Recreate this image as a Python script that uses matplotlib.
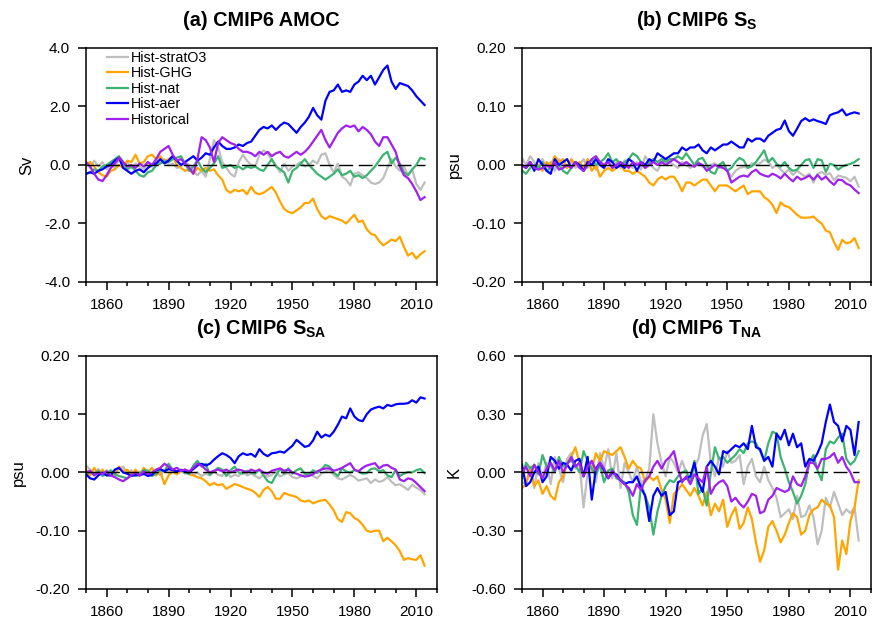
import numpy as np
import matplotlib
matplotlib.use('Agg')
import matplotlib.pyplot as plt
from matplotlib.ticker import FixedLocator, MultipleLocator, FormatStrFormatter

plt.rcParams['font.family'] = 'Liberation Sans'
plt.rcParams['mathtext.fontset'] = 'custom'
plt.rcParams['mathtext.rm'] = 'Liberation Sans'
plt.rcParams['mathtext.bf'] = 'Liberation Sans:bold'
plt.rcParams['axes.unicode_minus'] = False

# annual anomalies sampled every 2 years, 1850-2014
years = np.arange(1850, 2015, 2)

# (a) AMOC, Sv
amoc_strato3 = [0.10, -0.10, 0.15, -0.05, 0.10, -0.15, 0.05, -0.10, 0.20, 0.00,
                0.10, -0.10, 0.05, -0.05, -0.15, 0.10, -0.05, 0.15, 0.05, 0.20,
                0.00, 0.05, -0.10, -0.05, 0.10, 0.00, -0.20, -0.35, -0.20, -0.40,
                0.20, 0.85, 0.60, 0.10, -0.10, -0.30, -0.40, 0.10, 0.35, 0.15,
                0.00, -0.05, 0.35, 0.50, 0.40, 0.15, 0.00, -0.25, 0.05, -0.20,
                -0.05, 0.00, 0.10, -0.05, 0.00, 0.15, 0.05, 0.35, 0.40, 0.00,
                -0.25, 0.05, -0.40, -0.50, -0.70, -0.30, -0.25, -0.35, -0.45, -0.60,
                -0.65, -0.60, -0.45, -0.10, 0.20, -0.05, -0.20, -0.05, -0.35, -0.15,
                -0.65, -0.85, -0.60]
amoc_ghg = [0.00, 0.10, -0.05, -0.25, -0.35, -0.40, -0.20, -0.15, 0.00, -0.10,
            0.15, 0.10, 0.35, 0.05, 0.10, 0.30, 0.35, 0.20, 0.30, 0.10,
            0.20, 0.30, 0.00, -0.10, -0.20, -0.15, -0.30, -0.10, -0.20, -0.10,
            -0.20, -0.15, -0.35, -0.50, -0.85, -0.95, -0.85, -0.90, -0.85, -1.00,
            -0.75, -0.95, -1.00, -0.95, -0.85, -0.75, -0.95, -1.25, -1.50, -1.60,
            -1.65, -1.55, -1.45, -1.30, -1.30, -1.15, -1.50, -1.75, -1.85, -1.75,
            -1.80, -1.85, -1.90, -2.00, -1.85, -1.70, -1.95, -1.90, -2.20, -2.35,
            -2.40, -2.60, -2.75, -2.65, -2.55, -2.60, -2.45, -2.80, -3.10, -3.00,
            -3.20, -3.05, -2.95]
amoc_nat = [-0.30, -0.25, -0.15, -0.20, -0.05, 0.00, 0.10, 0.20, 0.30, 0.10,
            -0.15, -0.05, -0.20, -0.35, -0.40, -0.25, -0.20, 0.00, 0.05, 0.15,
            0.10, 0.20, 0.25, 0.30, 0.05, -0.20, -0.05, 0.15, -0.10, -0.25,
            -0.10, 0.05, 0.30, -0.10, -0.05, 0.00, -0.10, -0.05, -0.15, -0.05,
            -0.10, -0.05, -0.15, -0.20, 0.00, 0.20, -0.05, -0.15, -0.25, -0.60,
            -0.20, -0.10, 0.05, 0.20, 0.00, -0.15, -0.30, -0.40, -0.50, -0.40,
            -0.30, -0.15, -0.35, -0.30, -0.20, -0.40, -0.35, -0.45, -0.35, -0.20,
            -0.05, 0.15, 0.35, 0.45, 0.05, 0.25, 0.05, -0.25, -0.35, -0.15,
            0.00, 0.25, 0.20]
amoc_aer = [-0.30, -0.25, -0.30, -0.20, -0.15, -0.05, 0.00, 0.15, 0.25, -0.10,
            -0.20, -0.30, -0.20, -0.15, -0.25, -0.10, 0.00, 0.05, 0.20, 0.05,
            0.15, 0.30, 0.15, 0.00, 0.10, 0.20, 0.30, 0.15, 0.25, 0.40,
            0.35, 0.60, 0.80, 0.65, 0.55, 0.55, 0.60, 0.70, 0.65, 0.75,
            0.80, 1.00, 1.20, 1.30, 1.25, 1.35, 1.20, 1.35, 1.45, 1.40,
            1.25, 1.10, 1.30, 1.45, 1.65, 1.95, 1.70, 1.55, 2.20, 2.50,
            2.55, 2.75, 2.50, 2.55, 2.50, 2.75, 2.85, 3.05, 2.90, 3.05,
            2.75, 3.00, 3.25, 3.40, 2.85, 2.60, 2.80, 2.75, 2.70, 2.55,
            2.35, 2.20, 2.05]
amoc_hist = [0.10, -0.05, -0.30, -0.50, -0.55, -0.35, -0.10, 0.05, 0.25, 0.10,
             -0.05, 0.00, -0.10, 0.05, -0.05, 0.10, 0.00, 0.20, 0.45, 0.55,
             0.65, 0.35, 0.15, 0.20, 0.05, -0.10, -0.30, 0.20, 0.95, 0.85,
             0.60, 0.10, 0.75, 0.95, 0.85, 0.75, 0.70, 0.55, 0.45, 0.45,
             0.40, 0.30, 0.45, 0.35, 0.45, 0.30, 0.40, 0.45, 0.30, 0.25,
             0.35, 0.45, 0.35, 0.45, 0.60, 0.80, 1.00, 1.20, 0.85, 0.60,
             0.85, 1.10, 1.25, 1.35, 1.30, 1.35, 1.15, 1.30, 1.20, 1.05,
             0.80, 0.65, 0.95, 0.95, 0.70, 0.45, -0.05, -0.35, -0.45, -0.65,
             -0.90, -1.20, -1.10]

# (b) S_S, psu
ss_strato3 = [0.012, 0.000, 0.015, 0.005, -0.005, 0.010, -0.005, 0.005, -0.010, 0.010,
              0.000, -0.005, 0.008, -0.005, 0.000, 0.010, -0.005, 0.005, -0.008, 0.005,
              0.000, 0.008, -0.005, 0.005, -0.005, 0.008, 0.000, -0.005, 0.005, -0.008,
              0.015, 0.005, -0.005, -0.010, 0.005, 0.010, 0.005, 0.000, -0.005, 0.005,
              0.000, -0.005, 0.000, 0.005, -0.003, -0.005, 0.000, 0.003, -0.005, -0.003,
              -0.010, -0.020, -0.010, -0.005, -0.003, -0.005, 0.003, 0.000, 0.003, 0.009,
              0.006, -0.005, 0.000, -0.008, -0.014, -0.008, -0.017, -0.010, -0.015, -0.020,
              -0.015, -0.030, -0.015, -0.012, -0.017, -0.014, -0.026, -0.018, -0.020, -0.022,
              -0.028, -0.020, -0.037]
ss_ghg = [0.000, -0.005, 0.005, -0.005, 0.000, -0.010, 0.005, 0.000, 0.015, 0.005,
          0.010, -0.005, 0.010, 0.000, 0.005, -0.005, 0.010, -0.010, 0.000, -0.020,
          -0.010, -0.005, -0.010, -0.005, 0.000, -0.010, -0.010, -0.015, -0.010, -0.015,
          -0.020, -0.030, -0.035, -0.025, -0.020, -0.025, -0.020, -0.020, -0.030, -0.045,
          -0.030, -0.030, -0.035, -0.030, -0.025, -0.025, -0.035, -0.045, -0.035, -0.035,
          -0.035, -0.040, -0.045, -0.040, -0.035, -0.050, -0.045, -0.045, -0.045, -0.055,
          -0.060, -0.068, -0.082, -0.064, -0.070, -0.072, -0.078, -0.085, -0.090, -0.090,
          -0.090, -0.088, -0.095, -0.100, -0.112, -0.115, -0.132, -0.145, -0.128, -0.134,
          -0.132, -0.125, -0.142]
ss_nat = [-0.010, -0.015, -0.005, 0.000, -0.005, 0.005, -0.010, -0.005, 0.005, 0.000,
          -0.010, -0.015, -0.005, 0.005, 0.000, -0.010, 0.000, 0.010, 0.000, 0.005,
          0.010, 0.020, 0.005, 0.010, 0.000, 0.005, 0.010, 0.020, 0.015, 0.005,
          -0.005, 0.005, 0.010, 0.005, 0.010, 0.005, 0.010, 0.010, 0.015, 0.010,
          0.020, 0.010, 0.000, 0.010, 0.012, 0.000, -0.012, -0.015, 0.000, 0.005,
          -0.010, -0.005, 0.005, 0.012, 0.008, -0.005, -0.002, 0.005, 0.015, 0.025,
          0.005, 0.012, 0.002, -0.003, 0.005, -0.005, -0.010, -0.008, 0.000, 0.008,
          0.010, -0.005, 0.010, 0.008, -0.012, 0.002, 0.000, -0.008, -0.003, 0.000,
          0.002, 0.005, 0.010]
ss_aer = [0.000, -0.005, 0.005, -0.010, 0.010, 0.000, -0.010, -0.015, 0.010, 0.000,
          0.005, 0.010, -0.005, 0.005, 0.000, -0.010, 0.005, 0.000, 0.010, 0.000,
          -0.005, 0.010, 0.005, -0.005, 0.000, -0.005, 0.010, 0.005, -0.010, 0.005,
          0.000, 0.010, 0.005, 0.020, 0.015, 0.010, 0.015, 0.020, 0.020, 0.030,
          0.025, 0.030, 0.030, 0.035, 0.025, 0.020, 0.030, 0.025, 0.030, 0.035,
          0.035, 0.040, 0.035, 0.030, 0.030, 0.045, 0.040, 0.045, 0.045, 0.040,
          0.050, 0.055, 0.060, 0.062, 0.076, 0.058, 0.050, 0.062, 0.075, 0.080,
          0.075, 0.078, 0.075, 0.073, 0.070, 0.085, 0.088, 0.090, 0.095, 0.085,
          0.088, 0.090, 0.088]
ss_hist = [0.000, -0.005, 0.005, -0.005, -0.008, -0.005, 0.000, -0.005, 0.005, -0.008,
           -0.005, 0.000, -0.005, 0.005, -0.005, -0.010, 0.000, 0.010, 0.015, 0.005,
           0.000, 0.005, -0.005, 0.000, 0.005, 0.000, -0.005, 0.005, 0.000, 0.005,
           -0.005, 0.000, 0.005, 0.000, 0.005, 0.000, 0.005, 0.010, 0.005, 0.000,
           0.005, 0.000, -0.003, 0.003, 0.000, -0.010, -0.005, 0.000, -0.003, -0.005,
           -0.010, -0.030, -0.025, -0.020, -0.018, -0.020, -0.012, -0.008, -0.015, -0.018,
           -0.020, -0.015, -0.018, -0.023, -0.015, -0.022, -0.028, -0.020, -0.025, -0.022,
           -0.018, -0.025, -0.017, -0.025, -0.020, -0.028, -0.034, -0.025, -0.026, -0.032,
           -0.035, -0.042, -0.048]

# (c) S_SA, psu
ssa_strato3 = [0.012, 0.005, -0.002, 0.006, -0.004, 0.004, -0.005, 0.003, 0.006, 0.010,
               -0.002, 0.004, -0.006, 0.002, -0.004, 0.003, -0.004, 0.002, -0.005, 0.004,
               0.000, 0.004, -0.003, 0.002, -0.002, 0.003, -0.004, 0.000, -0.006, -0.002,
               -0.005, 0.002, -0.004, -0.006, 0.004, -0.008, -0.004, -0.006, 0.002, -0.005,
               -0.002, -0.006, -0.010, -0.004, -0.007, -0.004, 0.002, -0.007, -0.003, -0.001,
               -0.008, -0.010, -0.007, -0.004, -0.002, -0.006, -0.010, -0.002, 0.002, 0.004,
               -0.004, -0.010, -0.012, -0.008, -0.004, -0.008, -0.014, -0.012, -0.010, -0.018,
               -0.012, -0.016, -0.014, -0.008, -0.016, -0.022, -0.020, -0.025, -0.030, -0.021,
               -0.026, -0.030, -0.037]
ssa_ghg = [0.005, -0.005, 0.008, -0.003, 0.005, -0.005, 0.002, -0.005, 0.010, 0.002,
           0.005, -0.005, 0.005, -0.005, 0.008, 0.000, 0.008, -0.005, 0.002, -0.020,
           -0.005, 0.002, -0.003, 0.003, 0.005, -0.003, -0.005, -0.008, -0.010, -0.015,
           -0.022, -0.018, -0.022, -0.020, -0.028, -0.024, -0.020, -0.022, -0.025, -0.028,
           -0.030, -0.035, -0.042, -0.030, -0.025, -0.032, -0.045, -0.045, -0.035, -0.038,
           -0.040, -0.042, -0.048, -0.050, -0.048, -0.053, -0.050, -0.048, -0.047, -0.055,
           -0.065, -0.080, -0.085, -0.068, -0.070, -0.078, -0.082, -0.090, -0.100, -0.102,
           -0.100, -0.100, -0.118, -0.112, -0.118, -0.125, -0.135, -0.150, -0.147, -0.149,
           -0.150, -0.142, -0.160]
ssa_nat = [-0.005, 0.002, -0.004, 0.003, -0.006, -0.002, 0.004, -0.003, -0.006, -0.008,
           -0.010, -0.004, -0.006, -0.002, 0.004, 0.003, -0.006, -0.002, 0.004, 0.002,
           0.015, 0.005, 0.002, 0.005, 0.000, -0.003, 0.012, 0.020, 0.010, 0.015,
           -0.004, 0.002, 0.008, 0.005, -0.006, 0.004, 0.010, 0.000, -0.002, 0.003,
           0.000, -0.002, 0.005, -0.005, -0.015, -0.018, -0.005, 0.006, -0.002, 0.007,
           -0.002, 0.004, 0.007, -0.002, -0.004, 0.004, -0.001, 0.005, 0.013, 0.010,
           0.000, -0.006, 0.007, 0.002, 0.000, 0.004, 0.002, -0.002, -0.001, 0.006,
           0.007, 0.002, 0.004, -0.005, -0.008, 0.004, -0.006, -0.002, 0.001, 0.000,
           0.004, 0.006, -0.001]
ssa_aer = [-0.003, -0.010, -0.012, -0.005, 0.000, -0.005, -0.005, 0.005, 0.008, 0.000,
           -0.002, -0.006, -0.004, -0.005, -0.002, -0.006, -0.004, 0.004, 0.006, 0.002,
           0.006, 0.004, 0.002, 0.004, 0.002, 0.000, 0.006, 0.012, 0.015, 0.012,
           0.015, 0.022, 0.028, 0.033, 0.030, 0.025, 0.016, 0.028, 0.033, 0.030,
           0.032, 0.027, 0.040, 0.032, 0.028, 0.033, 0.034, 0.036, 0.034, 0.040,
           0.046, 0.056, 0.050, 0.044, 0.046, 0.055, 0.070, 0.060, 0.065, 0.062,
           0.070, 0.082, 0.096, 0.093, 0.110, 0.096, 0.090, 0.088, 0.100, 0.108,
           0.111, 0.113, 0.110, 0.116, 0.114, 0.117, 0.118, 0.118, 0.119, 0.124,
           0.120, 0.129, 0.127]
ssa_hist = [0.000, 0.003, -0.005, 0.000, -0.003, 0.002, -0.005, -0.008, -0.012, -0.015,
            -0.010, -0.005, 0.000, -0.005, 0.002, -0.003, 0.000, 0.005, 0.008, 0.015,
            0.010, 0.005, 0.008, 0.003, 0.005, 0.002, 0.008, 0.015, 0.012, 0.005,
            0.000, 0.003, 0.005, 0.002, 0.005, 0.000, 0.003, 0.005, 0.003, 0.000,
            0.005, 0.002, 0.005, 0.000, -0.002, 0.003, 0.005, 0.007, 0.003, 0.005,
            0.000, -0.002, -0.005, -0.007, -0.006, -0.003, 0.002, 0.005, 0.007, 0.007,
            0.003, 0.005, 0.008, 0.012, 0.016, 0.005, 0.002, 0.008, 0.012, 0.014,
            0.016, 0.007, 0.012, 0.013, 0.008, 0.005, -0.012, -0.015, -0.010, -0.012,
            -0.018, -0.025, -0.032]

# (d) T_NA, K
tna_strato3 = [-0.05, -0.06, 0.02, -0.08, 0.05, -0.03, 0.05, -0.06, 0.08, 0.02,
               -0.05, 0.07, 0.10, 0.02, 0.05, -0.18, 0.00, 0.05, -0.05, 0.10,
               0.02, 0.12, -0.03, 0.10, -0.08, 0.05, 0.00, -0.05, 0.03, -0.05,
               -0.04, 0.02, 0.30, 0.15, 0.05, -0.02, 0.08, 0.05, 0.00, 0.06,
               0.00, -0.05, 0.03, 0.07, 0.19, 0.25, 0.05, -0.02, 0.08, 0.03,
               0.11, 0.05, 0.06, 0.09, -0.06, 0.03, 0.07, -0.02, -0.05, 0.03,
               -0.04, -0.08, -0.13, -0.23, -0.21, -0.19, -0.24, -0.12, -0.23, -0.22,
               -0.17, -0.23, -0.37, -0.30, -0.13, -0.18, -0.10, -0.16, -0.22, -0.19,
               -0.21, -0.18, -0.35]
tna_ghg = [-0.08, -0.06, 0.03, -0.07, -0.04, -0.11, -0.07, -0.12, -0.14, -0.05,
           -0.02, 0.05, 0.08, 0.13, 0.05, -0.02, 0.05, 0.01, 0.10, 0.06,
           0.11, 0.10, 0.09, 0.11, 0.13, 0.08, 0.02, 0.06, 0.03, 0.02,
           -0.05, -0.02, -0.04, -0.02, -0.09, -0.14, -0.26, -0.11, -0.09, -0.06,
           -0.09, -0.12, -0.08, -0.12, -0.17, -0.10, -0.22, -0.16, -0.20, -0.14,
           -0.28, -0.22, -0.18, -0.29, -0.26, -0.18, -0.24, -0.36, -0.46, -0.40,
           -0.28, -0.25, -0.30, -0.36, -0.32, -0.26, -0.21, -0.23, -0.32, -0.30,
           -0.22, -0.19, -0.18, -0.14, -0.16, -0.17, -0.23, -0.50, -0.35, -0.42,
           -0.25, -0.18, -0.04]
tna_nat = [-0.03, 0.05, 0.02, 0.04, -0.01, 0.09, 0.03, 0.04, 0.00, 0.08,
           0.03, 0.05, 0.06, 0.04, 0.00, 0.11, 0.06, 0.02, -0.01, 0.04,
           -0.05, 0.01, 0.02, -0.03, -0.04, -0.05, -0.10, -0.22, -0.27, -0.06,
           -0.12, -0.18, -0.32, -0.20, -0.12, -0.07, -0.04, -0.05, -0.02, 0.00,
           0.01, -0.05, 0.06, -0.11, -0.08, -0.17, 0.00, 0.13, 0.07, 0.08,
           0.05, 0.07, 0.09, 0.12, 0.10, 0.15, 0.16, 0.15, 0.11, 0.06,
           0.15, 0.21, 0.20, 0.08, 0.02, -0.05, -0.10, -0.16, -0.12, -0.06,
           0.05, 0.09, 0.01, -0.04, 0.12, 0.16, 0.15, 0.18, 0.20, 0.07,
           0.04, 0.06, 0.11]
tna_aer = [0.04, -0.07, -0.05, 0.00, 0.03, -0.05, -0.02, 0.08, 0.06, 0.02,
           0.05, 0.04, 0.01, 0.06, 0.07, -0.02, 0.08, -0.14, 0.02, 0.05,
           0.01, -0.03, 0.00, -0.01, -0.04, -0.06, -0.05, -0.05, -0.02, -0.08,
           -0.12, -0.25, -0.12, -0.08, -0.12, -0.10, -0.22, -0.20, -0.05, -0.04,
           -0.03, -0.02, 0.05, -0.05, -0.10, 0.03, 0.06, 0.03, -0.01, 0.11,
           0.10, 0.12, 0.14, 0.13, 0.15, 0.12, 0.24, 0.13, 0.12, 0.06,
           0.08, 0.03, 0.20, 0.17, 0.22, 0.14, 0.20, 0.13, 0.15, 0.03,
           0.07, 0.06, 0.10, 0.15, 0.26, 0.35, 0.26, 0.24, 0.16, 0.24,
           0.22, 0.09, 0.26]
tna_hist = [0.00, 0.03, -0.02, 0.04, 0.00, -0.03, 0.02, 0.05, 0.01, 0.06,
            0.00, 0.04, 0.08, 0.03, 0.05, -0.02, 0.03, 0.06, 0.01, 0.05,
            0.02, -0.03, 0.01, -0.02, -0.04, -0.06, -0.08, -0.12, -0.06, -0.09,
            -0.04, -0.02, 0.03, 0.06, 0.02, 0.06, 0.08, 0.11, 0.02, -0.05,
            -0.02, -0.06, -0.01, -0.03, -0.05, 0.03, -0.11, -0.07, -0.05, -0.04,
            -0.07, -0.15, -0.13, -0.16, -0.18, -0.15, -0.11, -0.12, -0.21, -0.20,
            -0.14, -0.12, -0.08, -0.09, -0.10, -0.09, -0.02, -0.06, -0.07, -0.02,
            0.05, 0.05, 0.02, 0.07, 0.07, 0.08, 0.10, 0.05, 0.08, 0.03,
            0.00, -0.05, -0.05]

names = ['Hist-stratO3', 'Hist-GHG', 'Hist-nat', 'Hist-aer', 'Historical']
colors = ['#bebebe', '#ffa500', '#3cb371', '#0000ff', '#a020f0']

panels = [
    dict(title='(a) CMIP6 AMOC', ylabel='Sv', lim=4.0, fmt='%.1f',
         series=[amoc_strato3, amoc_ghg, amoc_nat, amoc_aer, amoc_hist]),
    dict(title=r'(b) CMIP6 S$_{\mathbf{S}}$', ylabel='psu', lim=0.2, fmt='%.2f',
         series=[ss_strato3, ss_ghg, ss_nat, ss_aer, ss_hist]),
    dict(title=r'(c) CMIP6 S$_{\mathbf{SA}}$', ylabel='psu', lim=0.2, fmt='%.2f',
         series=[ssa_strato3, ssa_ghg, ssa_nat, ssa_aer, ssa_hist]),
    dict(title=r'(d) CMIP6 T$_{\mathbf{NA}}$', ylabel='K', lim=0.6, fmt='%.2f',
         series=[tna_strato3, tna_ghg, tna_nat, tna_aer, tna_hist]),
]

# axes boxes in figure fractions (872 x 624 px)
boxes = [[0.0986, 0.5481, 0.4025, 0.375],
         [0.5986, 0.5481, 0.4002, 0.375],
         [0.0986, 0.0561, 0.4025, 0.3734],
         [0.5986, 0.0561, 0.4002, 0.3734]]

fig = plt.figure(figsize=(8.72, 6.24), dpi=100)

for k, (box, p) in enumerate(zip(boxes, panels)):
    ax = fig.add_axes(box)
    for vals, name, c in zip(p['series'], names, colors):
        assert len(vals) == len(years), (p['title'], name, len(vals))
        ax.plot(years, vals, color=c, lw=1.6, label=name)
    ax.plot([years[0], years[-1]], [0, 0], color='black', lw=1.0,
            dashes=(10, 4), zorder=5)

    lim = p['lim']
    ax.set_xlim(1850, 2020)
    ax.set_ylim(-lim, lim)
    ax.set_yticks(np.linspace(-lim, lim, 5))
    ax.yaxis.set_major_formatter(FormatStrFormatter(p['fmt']))
    ax.xaxis.set_major_locator(FixedLocator(range(1860, 2011, 30)))
    ax.xaxis.set_minor_locator(MultipleLocator(10))
    ax.tick_params(which='major', direction='out', length=5.5, width=1.1,
                   labelsize=11, pad=6)
    ax.tick_params(which='minor', direction='out', length=2.8, width=1.1)
    for s in ax.spines.values():
        s.set_linewidth(1.1)
    ax.set_ylabel(p['ylabel'], fontsize=12, labelpad=7)
    ax.annotate(p['title'], xy=(0.5, 1.0), xycoords='axes fraction',
                xytext=(0, 15.5), textcoords='offset points',
                ha='center', va='baseline', fontsize=14.3, fontweight='bold')
    if k == 0:
        ax.legend(loc='upper left', bbox_to_anchor=(0.06, 0.988), frameon=False,
                  fontsize=10.3, handlelength=1.45, handletextpad=0.25,
                  labelspacing=0.1, borderpad=0.0, borderaxespad=0.0)

fig.savefig('out.png', dpi=100, facecolor='white')
